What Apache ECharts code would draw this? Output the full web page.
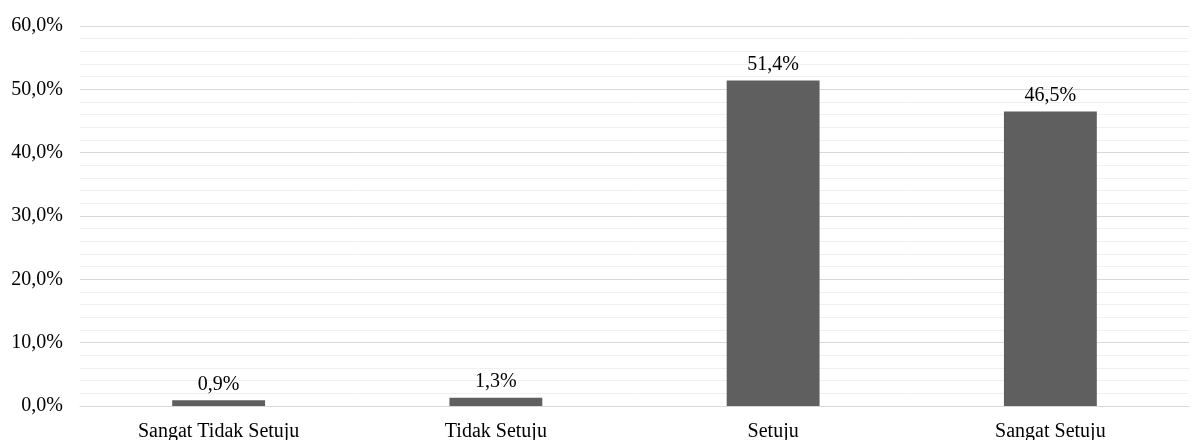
<!DOCTYPE html>
<html><head><meta charset="utf-8">
<script src="https://cdn.jsdelivr.net/npm/echarts@6/dist/echarts.min.js"></script>
<style>html,body{margin:0;padding:0;background:#fff}#c{width:1192px;height:440px}</style>
</head><body><div id="c"></div>
<script>
const categories = ['Sangat Tidak Setuju', 'Tidak Setuju', 'Setuju', 'Sangat Setuju'];
const values = [0.9, 1.3, 51.4, 46.5];
const yTicks = [0, 10, 20, 30, 40, 50, 60];
const fmt = v => v.toFixed(1).replace('.', ',') + '%';
const font = '"Liberation Serif", "Times New Roman", serif';
const chart = echarts.init(document.getElementById('c'));
chart.setOption({
  animation: false,
  textStyle: {fontFamily: font},
  grid: {left: 80, right: 3, top: 26, bottom: 34, outerBoundsMode: 'none', containLabel: false},
  xAxis: {
    type: 'category', data: categories,
    axisLine: {lineStyle: {color: '#d9d9d9'}},
    axisTick: {show: false},
    axisLabel: {color: '#000', fontSize: 20, fontFamily: font, margin: 16}
  },
  yAxis: {
    type: 'value', min: yTicks[0], max: yTicks[yTicks.length - 1], interval: 10,
    axisLine: {show: false}, axisTick: {show: false},
    axisLabel: {color: '#000', fontSize: 20, fontFamily: font, margin: 17, formatter: fmt},
    splitLine: {lineStyle: {color: '#d9d9d9', width: 1}},
    minorTick: {show: false, splitNumber: 5},
    minorSplitLine: {show: true, lineStyle: {color: '#f0f0f0', width: 1}}
  },
  series: [{
    type: 'bar', data: values, barWidth: '33.5%',
    itemStyle: {color: '#5f5f5f'},
    label: {show: true, position: 'top', distance: 6, color: '#000', fontSize: 20, fontFamily: font,
      formatter: p => fmt(p.value)}
  }]
});
</script></body></html>
